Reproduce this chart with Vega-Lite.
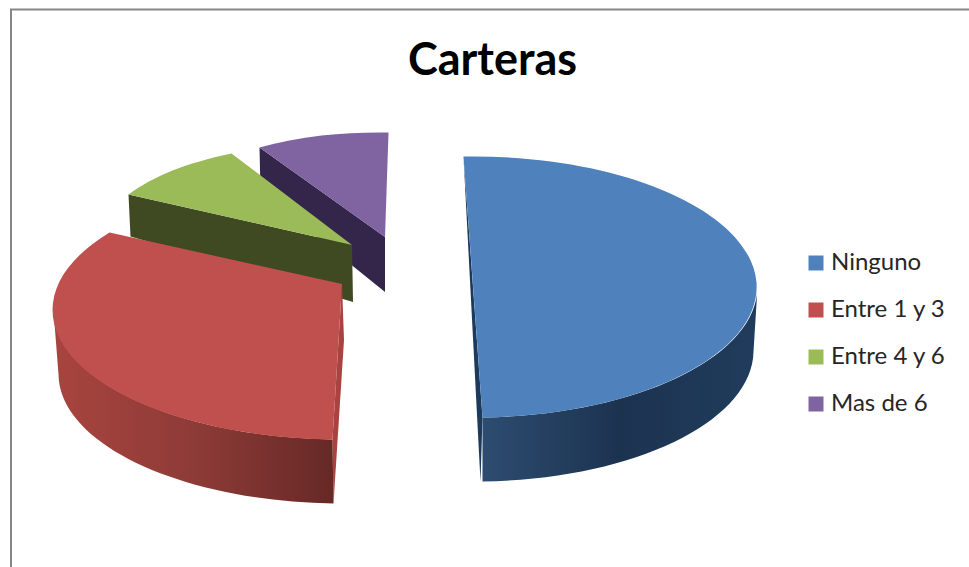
{
"$schema":"https://vega.github.io/schema/vega-lite/v6.json",
"width":969,"height":567,"autosize":"none","padding":0,"background":"white",
"config":{"view":{"stroke":null}},
"title":{"text":"Carteras","font":"Lato","fontWeight":"bold","fontSize":45,"color":"#000000","anchor":"middle","frame":"group","orient":"top","offset":0,"dx":8,"dy":84},
"data":{"values":[
{"orden":1,"categoria":"Ninguno","valor":6},
{"orden":2,"categoria":"Entre 1 y 3","valor":4},
{"orden":3,"categoria":"Entre 4 y 6","valor":1},
{"orden":4,"categoria":"Mas de 6","valor":1}]},
"transform":[
{"joinaggregate":[{"op":"sum","field":"valor","as":"total"}]},
{"stack":"valor","sort":[{"field":"orden"}],"as":["s0","s1"]},
{"calculate":"{'Ninguno':[473,287,284,131,-2,-2,473,285,64,4],'Entre 1 y 3':[343,310,290,130,2,6.5,342,284,64,5],'Entre 4 y 6':[352,245,256,104,-1,2,352,245,57,0],'Mas de 6':[386,238,246,106,-1,0.5,385,237,55,0]}[datum.categoria]","as":"g"},
{"calculate":"(datum.s0/datum.total*360+datum.g[4])*PI/180","as":"t0"},
{"calculate":"(datum.s1/datum.total*360+datum.g[5])*PI/180","as":"t1"},
{"calculate":"round(datum.g[0]+datum.g[2]*sin(datum.t0)-484.5)","as":"x0"},
{"calculate":"round(datum.g[1]-datum.g[3]*cos(datum.t0)-283.5)","as":"y0"},
{"calculate":"round(datum.g[0]+datum.g[2]*sin(datum.t1)-484.5)","as":"x1"},
{"calculate":"round(datum.g[1]-datum.g[3]*cos(datum.t1)-283.5)","as":"y1"},
{"calculate":"round(datum.g[0]+datum.g[2]*sin((datum.t0+datum.t1)/2)-484.5)","as":"xm"},
{"calculate":"round(datum.g[1]-datum.g[3]*cos((datum.t0+datum.t1)/2)-283.5)","as":"ym"},
{"calculate":"datum.g[6]-484.5","as":"ax"},
{"calculate":"datum.g[7]-283.5","as":"ay"},
{"calculate":"'M'+datum.x0+' '+datum.y0+' A'+datum.g[2]+' '+datum.g[3]+' 0 0 1 '+datum.xm+' '+datum.ym+' A'+datum.g[2]+' '+datum.g[3]+' 0 0 1 '+datum.x1+' '+datum.y1+' L'+datum.ax+' '+datum.ay+' Z'","as":"rutaCara"},
{"calculate":"max(datum.t0,PI/2)","as":"sa"},
{"calculate":"min(datum.t1,3*PI/2)","as":"sb"},
{"calculate":"'M'+round(datum.g[0]+datum.g[2]*sin(datum.sa)-484.5)+' '+round(datum.g[1]-datum.g[3]*cos(datum.sa)-283.5)+' A'+datum.g[2]+' '+datum.g[3]+' 0 0 1 '+round(datum.g[0]+datum.g[2]*sin(datum.sb)-484.5)+' '+round(datum.g[1]-datum.g[3]*cos(datum.sb)-283.5)+' L'+round(datum.g[0]+(datum.g[2]-datum.g[9])*sin(datum.sb)-484.5)+' '+round(datum.g[1]+datum.g[8]-datum.g[3]*cos(datum.sb)-283.5)+' A'+(datum.g[2]-datum.g[9])+' '+datum.g[3]+' 0 0 0 '+round(datum.g[0]+(datum.g[2]-datum.g[9])*sin(datum.sa)-484.5)+' '+round(datum.g[1]+datum.g[8]-datum.g[3]*cos(datum.sa)-283.5)+' Z'","as":"rutaPared"}
],
"layer":[
{"data":{"values":[{"borde":"superior"}]},"transform":[],"mark":{"type":"rule","color":"#868686","strokeWidth":2},"encoding":{"x":{"value":10},"x2":{"value":969},"y":{"value":9.5}}},
{"data":{"values":[{"borde":"izquierdo"}]},"transform":[],"mark":{"type":"rule","color":"#868686","strokeWidth":2},"encoding":{"x":{"value":11},"y":{"value":9},"y2":{"value":567}}},
{"transform":[{"filter":"datum.categoria=='Mas de 6'"},{"calculate":"'M'+datum.x0+' '+datum.y0+' L'+datum.ax+' '+datum.ay+' L'+datum.ax+' '+(datum.ay+datum.g[8])+' L'+(datum.x0+1)+' '+(datum.y0+44)+' Z'","as":"ruta"}],
"mark":{"type":"point","filled":true,"opacity":1,"strokeWidth":0,"fill":"#33264a"},
"encoding":{"shape":{"field":"ruta","type":"nominal","scale":null,"legend":null},"size":{"value":4}}},
{"transform":[{"filter":"datum.categoria=='Entre 4 y 6'"},{"calculate":"'M'+datum.x0+' '+datum.y0+' L'+datum.ax+' '+datum.ay+' L'+(datum.ax+1)+' '+(datum.ay+datum.g[8])+' L'+(datum.x0+2)+' '+(datum.y0+42)+' Z'","as":"ruta"}],
"mark":{"type":"point","filled":true,"opacity":1,"strokeWidth":0,"fill":"#3f4a22"},
"encoding":{"shape":{"field":"ruta","type":"nominal","scale":null,"legend":null},"size":{"value":4}}},
{"transform":[{"filter":"datum.categoria=='Entre 1 y 3'"},{"calculate":"'M'+datum.x0+' '+datum.y0+' L'+datum.ax+' '+datum.ay+' L'+(datum.ax+2)+' '+(datum.ay+56)+' L'+(datum.x0+1)+' '+(datum.y0+64)+' Z'","as":"ruta"}],
"mark":{"type":"point","filled":true,"opacity":1,"strokeWidth":0,"fill":"#a8433f"},
"encoding":{"shape":{"field":"ruta","type":"nominal","scale":null,"legend":null},"size":{"value":4}}},
{"transform":[{"filter":"datum.categoria=='Entre 1 y 3'"}],
"mark":{"type":"point","filled":true,"opacity":1,"strokeWidth":0,"fill":{"gradient":"linear","x1":0,"y1":0,"x2":1,"y2":0,"stops":[{"offset":0,"color":"#a8443f"},{"offset":0.5,"color":"#8e3b37"},{"offset":1,"color":"#662926"}]}},
"encoding":{"shape":{"field":"rutaPared","type":"nominal","scale":null,"legend":null},"size":{"value":4}}},
{"transform":[{"filter":"datum.categoria=='Ninguno'"},{"calculate":"'M'+datum.x0+' '+datum.y0+' L'+datum.x1+' '+datum.y1+' L'+(datum.x1-2)+' '+(datum.y1+datum.g[8])+' Z'","as":"ruta"}],
"mark":{"type":"point","filled":true,"opacity":1,"strokeWidth":0,"fill":"#1d3a5c"},
"encoding":{"shape":{"field":"ruta","type":"nominal","scale":null,"legend":null},"size":{"value":4}}},
{"transform":[{"filter":"datum.categoria=='Ninguno'"}],
"mark":{"type":"point","filled":true,"opacity":1,"strokeWidth":0,"fill":{"gradient":"linear","x1":0,"y1":0,"x2":1,"y2":0,"stops":[{"offset":0,"color":"#2d4c70"},{"offset":0.5,"color":"#1c3350"},{"offset":1,"color":"#203c5c"}]}},
"encoding":{"shape":{"field":"rutaPared","type":"nominal","scale":null,"legend":null},"size":{"value":4}}},
{"mark":{"type":"point","filled":true,"opacity":1,"strokeWidth":0},
"encoding":{
"shape":{"field":"rutaCara","type":"nominal","scale":null,"legend":null},
"size":{"value":4},
"color":{"field":"categoria","type":"nominal",
"scale":{"domain":["Ninguno","Entre 1 y 3","Entre 4 y 6","Mas de 6"],"range":["#4f81bd","#c0504d","#9bbb59","#8064a2"]},
"legend":{"title":null,"orient":"none","legendX":804,"legendY":251,"symbolType":"square","symbolSize":225,"symbolOpacity":1,"symbolStrokeWidth":0,"labelFont":"Lato","labelFontSize":24,"labelColor":"#262626","rowPadding":23,"labelOffset":3}}}}
]
}
